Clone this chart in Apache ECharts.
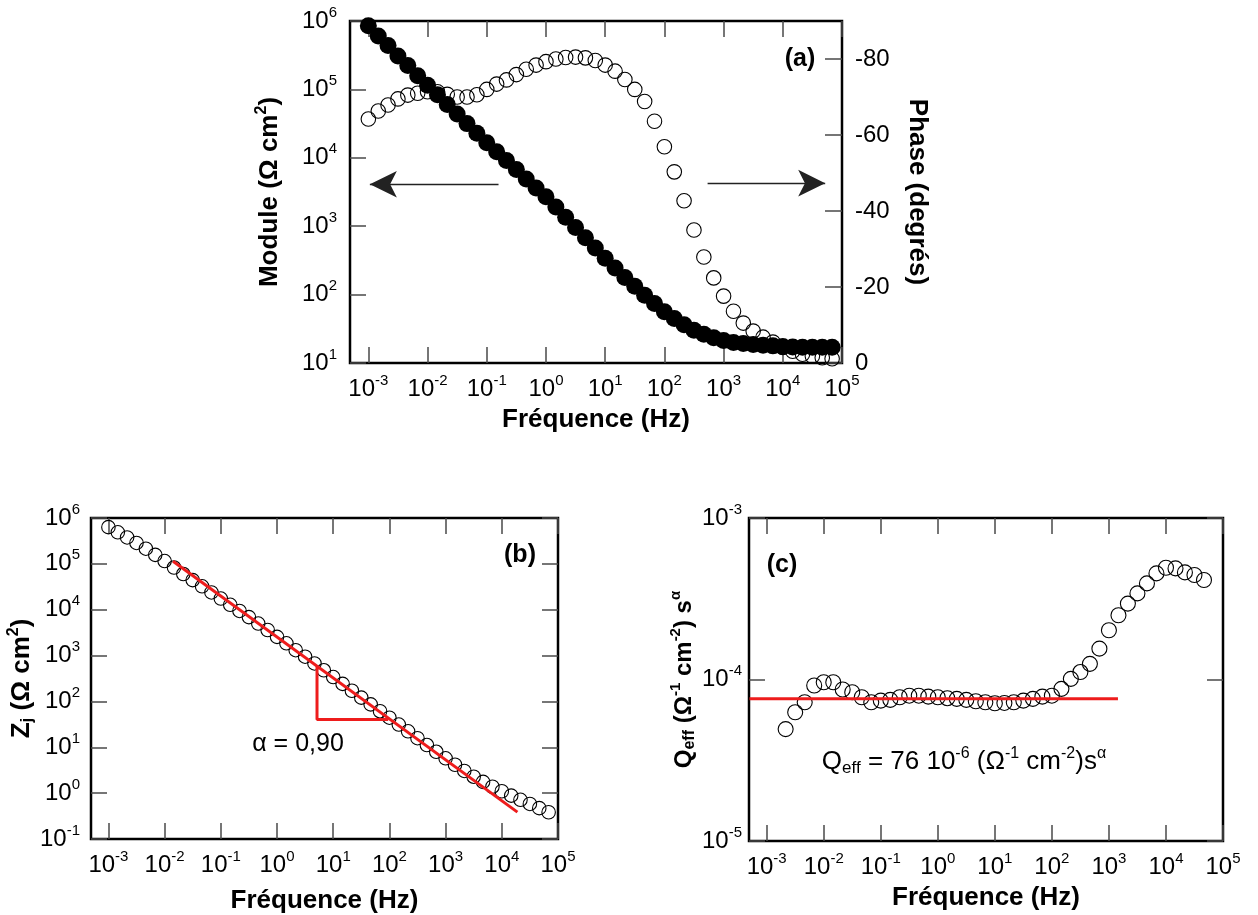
<!DOCTYPE html>
<html><head><meta charset="utf-8">
<script src="https://cdn.jsdelivr.net/npm/echarts@6/dist/echarts.min.js"></script>
<style>html,body{margin:0;padding:0;background:#fff}#c{width:1258px;height:915px}</style>
</head><body><div id="c"></div>
<script>
// ---------- data ----------
const FREQ = [0.001, 0.00147, 0.00215, 0.00316, 0.00464, 0.00681,
  0.01, 0.0147, 0.0215, 0.0316, 0.0464, 0.0681,
  0.1, 0.147, 0.215, 0.316, 0.464, 0.681,
  1, 1.47, 2.15, 3.16, 4.64, 6.81,
  10, 14.7, 21.5, 31.6, 46.4, 68.1,
  100, 147, 215, 316, 464, 681,
  1000, 1470, 2150, 3160, 4640, 6810,
  10000, 14700, 21500, 31600, 46400, 68100];
const MODULE = [851000, 603000, 437000, 309000, 224000, 158000, 115000, 83200, 60300, 43700, 31600, 22900,
  16600, 12300, 9120, 6760, 4900, 3630, 2690, 1910, 1350, 955, 676, 479,
  339, 245, 178, 132, 97.7, 74.1, 56.2, 44.7, 36.3, 30.2, 26.3, 23.4,
  21.4, 20.0, 19.3, 18.6, 18.2, 17.8, 17.4, 17.2, 17.0, 17.0, 17.0, 17.0];
const PHASE = [-64.2, -66.3, -67.9, -69.5, -70.5, -71.0, -71.4, -71.4, -70.7, -70.0, -70.0, -70.6,
  -72.0, -73.4, -74.5, -75.9, -77.3, -78.4, -79.3, -80.0, -80.4, -80.5, -80.3, -79.6,
  -78.4, -76.8, -74.6, -72.0, -68.8, -63.6, -56.9, -50.3, -42.7, -35.0, -27.9, -22.4,
  -17.6, -13.6, -10.5, -8.4, -6.8, -5.5, -4.1, -3.1, -2.3, -1.8, -1.4, -1.1];
const ZJ = [632000, 488000, 377000, 286000, 214000, 157000, 115000, 83200, 60000, 44200, 32400, 23800,
  17500, 12800, 9400, 6900, 4990, 3610, 2560, 1850, 1310, 946, 673, 478,
  340, 241, 171, 121, 86.1, 61.1, 44.2, 31.3, 22.3, 15.8, 11.2, 7.98,
  5.75, 4.16, 3.05, 2.28, 1.76, 1.38, 1.10, 0.881, 0.716, 0.581, 0.471, 0.383];
// Qeff starts at the 3rd frequency (FREQ index 2)
const QEFF_FIRST_INDEX = 2;
const QEFF = [4.93e-5, 6.27e-5, 7.23e-5, 9.18e-5, 9.62e-5, 9.62e-5, 8.67e-5, 8.34e-5, 7.76e-5, 7.23e-5,
  7.40e-5, 7.48e-5, 7.76e-5, 7.94e-5, 7.94e-5, 7.83e-5, 7.76e-5, 7.66e-5, 7.59e-5, 7.48e-5,
  7.33e-5, 7.23e-5, 7.13e-5, 7.16e-5, 7.23e-5, 7.40e-5, 7.59e-5, 7.83e-5, 7.94e-5, 8.75e-5,
  1.009e-4, 1.112e-4, 1.250e-4, 1.552e-4, 2.018e-4, 2.500e-4, 2.951e-4, 3.412e-4, 3.936e-4, 4.539e-4,
  4.920e-4, 4.875e-4, 4.603e-4, 4.436e-4, 4.130e-4];

const ZJ_FIT = [[0.0141, 114000], [18970, 0.385]];
const SLOPE_TRIANGLE = [[5.15, 575], [5.15, 40.4], [95, 40.4]];
const QEFF_FIT = [[0.0005, 76e-6], [1440, 76e-6]];
const ARROW_LEFT = [[0.158, 4110], [0.00106, 4110]];
const ARROW_RIGHT = [[537, 4260], [52000, 4260]];

// tick labels (decade exponents / degrees)
const X_TICKS = [-3, -2, -1, 0, 1, 2, 3, 4, 5];
const MODULE_TICKS = [1, 2, 3, 4, 5, 6];
const PHASE_TICKS = [0, -20, -40, -60, -80];
const ZJ_TICKS = [-1, 0, 1, 2, 3, 4, 5, 6];
const QEFF_TICKS = [-5, -4, -3];

// ---------- chart ----------
const FF = '"Liberation Sans", Arial, Helvetica, sans-serif';
const L = Math.log10;
const XMIN = -3.31, XMAX = 5;
const tickRich = {
  m: {fontSize: 24, fontFamily: FF, color: '#000'},
  s: {fontSize: 15, fontFamily: FF, color: '#000', padding: [0, 0, 17, 0]}
};
function nameRich(size) {
  return {
    t: {fontSize: size, fontWeight: 'bold', fontFamily: FF, color: '#000'},
    sup: {fontSize: Math.round(size * 0.62), fontWeight: 'bold', fontFamily: FF, color: '#000', padding: [0, 0, 16, 0]},
    sub: {fontSize: Math.round(size * 0.65), fontWeight: 'bold', fontFamily: FF, color: '#000', padding: [12, 0, 0, 0]}
  };
}
const TICK_STYLE = {color: '#4a4a4a', width: 1.5};
const expLabel = v => '{m|10}{s|' + v + '}';

function xAxisDef(grid, pos, labels, nameGap) {
  return {
    type: 'value', gridIndex: grid, position: pos, min: XMIN, max: XMAX,
    axisLine: {show: false, onZero: false}, splitLine: {show: false},
    axisTick: {show: true, inside: true, length: 16, lineStyle: TICK_STYLE, customValues: X_TICKS},
    axisLabel: {show: labels, customValues: X_TICKS, formatter: expLabel, rich: tickRich, margin: 10},
    name: labels ? 'Fréquence (Hz)' : '', nameLocation: 'middle', nameGap: nameGap || 40,
    nameTextStyle: {fontSize: 26, fontWeight: 'bold', fontFamily: FF, color: '#000'}
  };
}
function yAxisDef(grid, pos, min, max, ticks, labels, margin, name, nameGap, nameSize) {
  return {
    type: 'value', gridIndex: grid, position: pos, min: min, max: max,
    axisLine: {show: false, onZero: false}, splitLine: {show: false},
    axisTick: {show: true, inside: true, length: 16, lineStyle: TICK_STYLE, customValues: ticks},
    axisLabel: {show: labels, customValues: ticks, formatter: expLabel, rich: tickRich, margin: margin},
    name: name || '', nameLocation: 'middle', nameGap: nameGap || 40,
    nameTextStyle: {rich: nameRich(nameSize || 26)}
  };
}

const openCircle = {color: 'rgba(0,0,0,0)', borderColor: '#000', borderWidth: 1.1, opacity: 1};
const redLine = {color: '#ee1c1c', width: 3};

const phaseAxis = {
  type: 'value', gridIndex: 0, position: 'right', min: -90, max: 0, inverse: true,
  axisLine: {show: false, onZero: false}, splitLine: {show: false},
  axisTick: {show: true, inside: true, length: 17, lineStyle: TICK_STYLE, customValues: PHASE_TICKS},
  axisLabel: {customValues: PHASE_TICKS, fontSize: 24, fontFamily: FF, color: '#000', margin: 13},
  name: 'Phase (degrés)', nameLocation: 'middle', nameRotate: -90, nameGap: 62,
  nameTextStyle: {fontSize: 26, fontWeight: 'bold', fontFamily: FF, color: '#000'}
};

const option = {
  animation: false,
  backgroundColor: '#fff',
  textStyle: {fontFamily: FF},
  grid: [
    {left: 350, top: 21, width: 492, height: 342, show: true, borderColor: '#000', borderWidth: 2.5, backgroundColor: 'rgba(0,0,0,0)'},
    {left: 91, top: 518, width: 467, height: 321, show: true, borderColor: '#000', borderWidth: 2.5, backgroundColor: 'rgba(0,0,0,0)'},
    {left: 749, top: 518, width: 474, height: 323, show: true, borderColor: '#000', borderWidth: 2.5, backgroundColor: 'rgba(0,0,0,0)'}
  ],
  xAxis: [
    xAxisDef(0, 'bottom', true, 44), xAxisDef(0, 'top', false),
    xAxisDef(1, 'bottom', true, 49), xAxisDef(1, 'top', false),
    xAxisDef(2, 'bottom', true, 44), xAxisDef(2, 'top', false)
  ],
  yAxis: [
    yAxisDef(0, 'left', 1, 6, MODULE_TICKS, true, 13, '{t|Module (Ω cm}{sup|2}{t|)}', 64, 26),
    phaseAxis,
    yAxisDef(1, 'left', -1, 6, ZJ_TICKS, true, 11, '{t|Z}{sub|j}{t| (Ω cm}{sup|2}{t|)}', 52, 26),
    yAxisDef(1, 'right', -1, 6, ZJ_TICKS, false, 10),
    yAxisDef(2, 'left', -5, -3, QEFF_TICKS, true, 7, '{t|Q}{sub|eff}{t| (Ω}{sup|-1}{t| cm}{sup|-2}{t|) s}{sup|α}', 48, 24),
    yAxisDef(2, 'right', -5, -3, QEFF_TICKS, false, 10)
  ],
  series: [
    {type: 'scatter', xAxisIndex: 0, yAxisIndex: 1, symbol: 'circle', symbolSize: 14.5,
      itemStyle: openCircle, data: FREQ.map((f, i) => [L(f), PHASE[i]])},
    {type: 'scatter', xAxisIndex: 0, yAxisIndex: 0, symbol: 'circle', symbolSize: 17,
      itemStyle: {color: '#000', opacity: 1}, data: FREQ.map((f, i) => [L(f), L(MODULE[i])]),
      markLine: {
        silent: true, symbol: ['none', 'arrow'], symbolSize: [20, 27],
        label: {show: false},
        lineStyle: {color: '#222', width: 1.3, type: 'solid', opacity: 1},
        data: [
          [{coord: [L(ARROW_LEFT[0][0]), L(ARROW_LEFT[0][1])]}, {coord: [L(ARROW_LEFT[1][0]), L(ARROW_LEFT[1][1])]}],
          [{coord: [L(ARROW_RIGHT[0][0]), L(ARROW_RIGHT[0][1])]}, {coord: [L(ARROW_RIGHT[1][0]), L(ARROW_RIGHT[1][1])]}]
        ]
      }},
    {type: 'scatter', xAxisIndex: 2, yAxisIndex: 2, symbol: 'circle', symbolSize: 13.5,
      itemStyle: openCircle, data: FREQ.map((f, i) => [L(f), L(ZJ[i])])},
    {type: 'line', xAxisIndex: 2, yAxisIndex: 2, symbol: 'none', lineStyle: redLine, itemStyle: {color: redLine.color},
      data: ZJ_FIT.map(p => [L(p[0]), L(p[1])])},
    {type: 'line', xAxisIndex: 2, yAxisIndex: 2, symbol: 'none', lineStyle: redLine, itemStyle: {color: redLine.color},
      data: SLOPE_TRIANGLE.map(p => [L(p[0]), L(p[1])])},
    {type: 'scatter', xAxisIndex: 4, yAxisIndex: 4, symbol: 'circle', symbolSize: 15,
      itemStyle: openCircle, data: QEFF.map((q, i) => [L(FREQ[i + QEFF_FIRST_INDEX]), L(q)])},
    {type: 'line', xAxisIndex: 4, yAxisIndex: 4, symbol: 'none', lineStyle: redLine, itemStyle: {color: redLine.color},
      data: QEFF_FIT.map(p => [L(p[0]), L(p[1])])}
  ],
  graphic: [
    {type: 'text', x: 800, y: 59, style: {text: '(a)', fontSize: 25, fontWeight: 'bold', fontFamily: FF, fill: '#000',
      align: 'center', verticalAlign: 'middle', textAlign: 'center', textVerticalAlign: 'middle'}},
    {type: 'text', x: 520, y: 555, style: {text: '(b)', fontSize: 25, fontWeight: 'bold', fontFamily: FF, fill: '#000',
      align: 'center', verticalAlign: 'middle', textAlign: 'center', textVerticalAlign: 'middle'}},
    {type: 'text', x: 782, y: 565, style: {text: '(c)', fontSize: 25, fontWeight: 'bold', fontFamily: FF, fill: '#000',
      align: 'center', verticalAlign: 'middle', textAlign: 'center', textVerticalAlign: 'middle'}},
    {type: 'text', x: 298, y: 744, style: {text: 'α = 0,90', fontSize: 25, fontFamily: FF, fill: '#000',
      align: 'center', verticalAlign: 'middle', textAlign: 'center', textVerticalAlign: 'middle'}},
    {type: 'text', x: 964, y: 762, style: {
      text: '{n|Q}{sub|eff}{n| = 76 10}{sup|-6}{n| (Ω}{sup|-1}{n| cm}{sup|-2}{n|)s}{sup|α}',
      align: 'center', verticalAlign: 'middle', textAlign: 'center', textVerticalAlign: 'middle',
      rich: {
        n: {fontSize: 26, fontFamily: FF, fill: '#000', color: '#000'},
        sub: {fontSize: 17, fontFamily: FF, fill: '#000', color: '#000', padding: [13, 0, 0, 0]},
        sup: {fontSize: 16, fontFamily: FF, fill: '#000', color: '#000', padding: [0, 0, 17, 0]}
      }}}
  ]
};

const chart = echarts.init(document.getElementById('c'), null, {renderer: 'canvas', width: 1258, height: 915});
chart.setOption(option);
</script>
</body></html>
